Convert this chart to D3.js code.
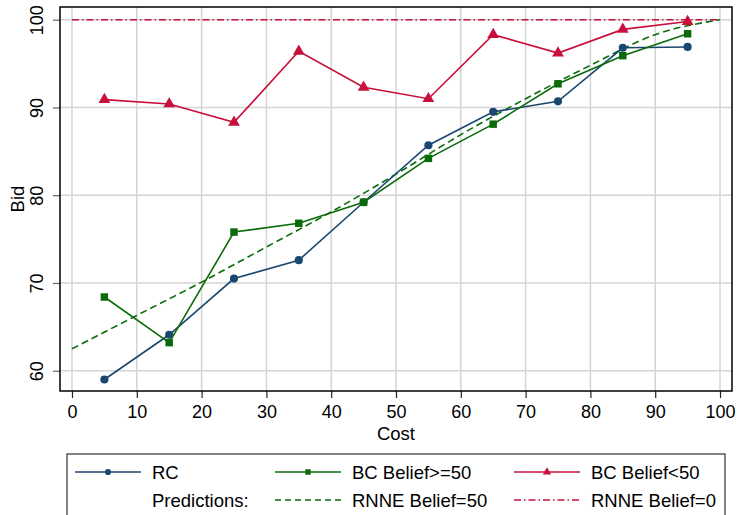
<!DOCTYPE html>
<html>
<head>
<meta charset="utf-8">
<script src="https://cdn.jsdelivr.net/npm/d3@7/dist/d3.min.js"></script>
<style>
  html, body { margin: 0; padding: 0; background: #fff; }
  svg { display: block; font-family: "Liberation Sans", Arial, Helvetica, sans-serif; }
</style>
</head>
<body>
<svg id="chart" width="737" height="515"></svg>
<script>
// Cost levels at which bids were observed
const costs = [5, 15, 25, 35, 45, 55, 65, 75, 85, 95];

// Mean bids per treatment
const rcBids        = [59.0, 64.1, 70.5, 72.6, 79.2, 85.7, 89.5, 90.7, 96.8, 96.9];
const bcHighBids    = [68.4, 63.2, 75.8, 76.8, 79.2, 84.2, 88.1, 92.7, 95.9, 98.4];
const bcLowBids     = [90.9, 90.4, 88.3, 96.4, 92.3, 91.0, 98.3, 96.2, 98.9, 99.8];

// Risk-neutral equilibrium predictions
const predCosts     = [0, 10, 20, 30, 40, 50, 60, 70, 80, 90, 100];
const rnneBelief50  = [62.5, 66.3, 70.1, 74.1, 78.1, 82.4, 86.9, 91.0, 94.8, 98.3, 100];
const rnneBelief0   = [100, 100, 100, 100, 100, 100, 100, 100, 100, 100, 100];

const xTicks = [0, 10, 20, 30, 40, 50, 60, 70, 80, 90, 100];
const yTicks = [60, 70, 80, 90, 100];

const BLUE = "#1a476f", GREEN = "#0b6b0b", RED = "#c8103c";

const svg = d3.select("#chart");

// plot region
const plotL = 60, plotR = 732, plotT = 7, plotB = 391;

const x = d3.scaleLinear().domain([-1.85, 101.85]).range([plotL, plotR]);
const y = d3.scaleLinear().domain([57.69, 101.45]).range([plotB, plotT]);

// grid
const grid = svg.append("g");
grid.selectAll("line.v").data(xTicks).enter().append("line")
  .attr("x1", d => x(d)).attr("x2", d => x(d))
  .attr("y1", plotT).attr("y2", plotB)
  .attr("stroke", "#d4d4d4").attr("stroke-width", 1.5);
grid.selectAll("line.h").data(yTicks).enter().append("line")
  .attr("x1", plotL).attr("x2", plotR)
  .attr("y1", d => y(d)).attr("y2", d => y(d))
  .attr("stroke", "#d4d4d4").attr("stroke-width", 1.5);

// axes
const xAxis = d3.axisBottom(x).tickValues(xTicks).tickSize(7).tickPadding(7).tickFormat(d3.format("d"));
const gx = svg.append("g").attr("transform", `translate(0,${plotB})`).call(xAxis);
gx.select(".domain").remove();
gx.selectAll(".tick line").attr("stroke", "#222").attr("stroke-width", 1.2);
gx.selectAll(".tick text").attr("font-size", 18).attr("fill", "#000")
  .attr("font-family", "Liberation Sans, Arial, sans-serif");

const yAxis = d3.axisLeft(y).tickValues(yTicks).tickSize(7).tickFormat(d3.format("d"));
const gy = svg.append("g").attr("transform", `translate(${plotL},0)`).call(yAxis);
gy.select(".domain").remove();
gy.selectAll(".tick line").attr("stroke", "#666").attr("stroke-width", 1.2);
gy.selectAll(".tick text")
  .attr("font-size", 18).attr("fill", "#000")
  .attr("font-family", "Liberation Sans, Arial, sans-serif")
  .attr("x", null).attr("dy", null)
  .attr("text-anchor", "middle")
  .attr("transform", "translate(-17,0) rotate(-90)");

// frame
svg.append("rect").attr("x", plotL).attr("y", plotT)
  .attr("width", plotR - plotL).attr("height", plotB - plotT)
  .attr("fill", "none").attr("stroke", "#000").attr("stroke-width", 1.5);

// axis titles
svg.append("text").attr("x", (plotL + plotR) / 2).attr("y", 440)
  .attr("text-anchor", "middle").attr("font-size", 18.5).text("Cost");
svg.append("text").attr("transform", `translate(24,${(plotT + plotB) / 2}) rotate(-90)`)
  .attr("text-anchor", "middle").attr("font-size", 18.5).text("Bid");

const line = d3.line().x(d => x(d[0])).y(d => y(d[1]));
const zip = (xs, ys) => xs.map((v, i) => [v, ys[i]]);

// prediction lines
svg.append("path").datum(zip(predCosts, rnneBelief0)).attr("d", line)
  .attr("fill", "none").attr("stroke", RED).attr("stroke-width", 1.4)
  .attr("stroke-dasharray", "7,3,1.5,3");
svg.append("path").datum(zip(predCosts, rnneBelief50))
  .attr("d", d3.line().curve(d3.curveMonotoneX).x(d => x(d[0])).y(d => y(d[1])))
  .attr("fill", "none").attr("stroke", GREEN).attr("stroke-width", 1.6)
  .attr("stroke-dasharray", "7,4");

// observed series
function series(vals, color, shape) {
  const pts = zip(costs, vals);
  svg.append("path").datum(pts).attr("d", line)
    .attr("fill", "none").attr("stroke", color).attr("stroke-width", 1.6);
  svg.append("g").selectAll("path").data(pts).enter().append("path")
    .attr("transform", d => `translate(${x(d[0])},${y(d[1])})`)
    .attr("d", d3.symbol().type(shape.type).size(shape.size))
    .attr("fill", color);
}
series(rcBids, BLUE, { type: d3.symbolCircle, size: 52 });
series(bcHighBids, GREEN, { type: d3.symbolSquare, size: 56 });
series(bcLowBids, RED, { type: d3.symbolTriangle, size: 60 });

// legend
const lg = svg.append("g");
lg.append("rect").attr("x", 67).attr("y", 454).attr("width", 658).attr("height", 80)
  .attr("fill", "#fff").attr("stroke", "#333").attr("stroke-width", 1.2);

const row1 = 472, row2 = 500;
const legendItems = [
  { x0: 75, row: row1, color: BLUE, dash: null, sym: d3.symbolCircle, size: 30, label: "RC" },
  { x0: 275, row: row1, color: GREEN, dash: null, sym: d3.symbolSquare, size: 30, label: "BC Belief>=50" },
  { x0: 514, row: row1, color: RED, dash: null, sym: d3.symbolTriangle, size: 30, label: "BC Belief<50" },
  { x0: 275, row: row2, color: GREEN, dash: "6,4", sym: null, label: "RNNE Belief=50" },
  { x0: 514, row: row2, color: RED, dash: "7,3,1.5,3", sym: null, label: "RNNE Belief=0" }
];
legendItems.forEach(it => {
  lg.append("line").attr("x1", it.x0).attr("x2", it.x0 + 66)
    .attr("y1", it.row).attr("y2", it.row)
    .attr("stroke", it.color).attr("stroke-width", 1.5)
    .attr("stroke-dasharray", it.dash);
  if (it.sym) {
    lg.append("path").attr("transform", `translate(${it.x0 + 33},${it.row})`)
      .attr("d", d3.symbol().type(it.sym).size(it.size)).attr("fill", it.color);
  }
  lg.append("text").attr("x", it.x0 + 77).attr("y", it.row + 7)
    .attr("font-size", 18.5).text(it.label);
});
lg.append("text").attr("x", 152).attr("y", row2 + 7).attr("font-size", 18.5).text("Predictions:");
</script>
</body>
</html>
